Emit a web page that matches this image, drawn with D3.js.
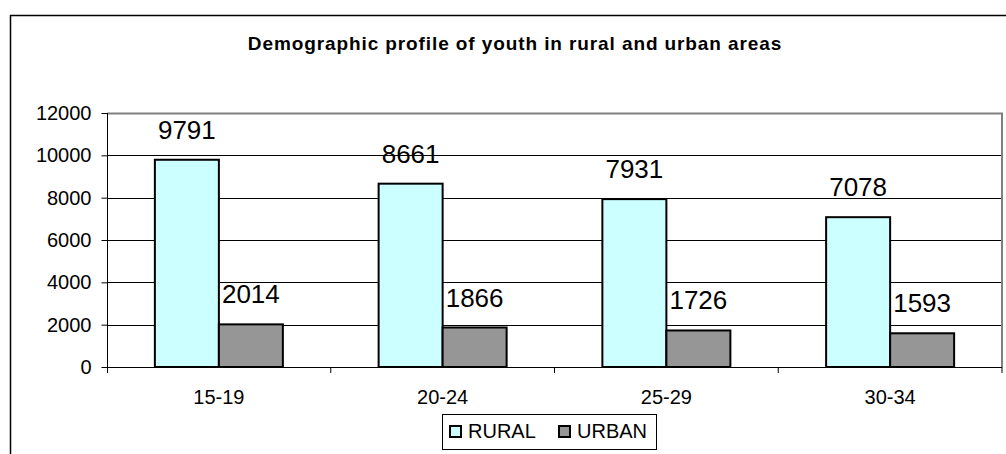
<!DOCTYPE html>
<html>
<head>
<meta charset="utf-8">
<script src="https://cdn.jsdelivr.net/npm/d3@7"></script>
<style>
  html, body { margin: 0; padding: 0; background: #fff; }
  svg { display: block; font-family: "Liberation Sans", Arial, sans-serif; }
</style>
</head>
<body>
<div id="chart"></div>
<script>
const titleText = "Demographic profile of youth in rural and urban areas";
const ageGroups = ["15-19", "20-24", "25-29", "30-34"];
const seriesNames = ["RURAL", "URBAN"];
const ruralValues = [9791, 8661, 7931, 7078];
const urbanValues = [2014, 1866, 1726, 1593];
const yTicks = [0, 2000, 4000, 6000, 8000, 10000, 12000];
const seriesColors = ["#ccffff", "#969696"];

const width = 1006;
const height = 454;
const plot = { left: 107, top: 113, right: 1002, bottom: 367 };

const svg = d3.select("#chart").append("svg")
  .attr("width", width)
  .attr("height", height);

// outer chart frame (cut off on right and bottom)
svg.append("rect")
  .attr("x", 10.5).attr("y", 15.5)
  .attr("width", 1100).attr("height", 600)
  .attr("fill", "#fff")
  .attr("stroke", "#000")
  .attr("stroke-width", 1.5);

svg.append("text")
  .attr("x", 515)
  .attr("y", 50)
  .attr("text-anchor", "middle")
  .attr("font-size", 19)
  .attr("font-weight", "bold")
  .attr("letter-spacing", 0.9)
  .text(titleText);

const x = d3.scaleBand()
  .domain(ageGroups)
  .range([plot.left, plot.right])
  .paddingInner(0)
  .paddingOuter(0);

// two touching bars per group, ~64px each
const inner = d3.scaleBand()
  .domain(seriesNames)
  .range([0, x.bandwidth()])
  .paddingOuter(0.748)
  .paddingInner(0);

const y = d3.scaleLinear()
  .domain([0, 12000])
  .range([plot.bottom, plot.top]);

// gridlines
svg.append("g")
  .selectAll("line")
  .data(yTicks.filter(function (d) { return d > 0 && d < 12000; }))
  .join("line")
  .attr("x1", plot.left).attr("x2", plot.right)
  .attr("y1", function (d) { return Math.round(y(d)) + 0.5; })
  .attr("y2", function (d) { return Math.round(y(d)) + 0.5; })
  .attr("stroke", "#000")
  .attr("stroke-width", 1);

// plot area border (top/right in gray)
svg.append("path")
  .attr("d", `M${plot.left},${plot.top + 0.5}H${plot.right}V${plot.bottom}`)
  .attr("fill", "none")
  .attr("stroke", "#808080")
  .attr("stroke-width", 2);

// y axis
const yAxis = d3.axisLeft(y)
  .tickValues(yTicks)
  .tickSize(6)
  .tickPadding(10)
  .tickFormat(d3.format("d"));

const yG = svg.append("g")
  .attr("transform", `translate(${plot.left + 0.5},0)`)
  .call(yAxis);
yG.select(".domain").remove();
yG.selectAll(".tick line").attr("stroke", "#000");
yG.selectAll(".tick text")
  .attr("font-size", 20)
  .attr("font-family", "Liberation Sans, Arial, sans-serif")
  .attr("fill", "#000");

svg.append("line")
  .attr("x1", plot.left + 0.5).attr("x2", plot.left + 0.5)
  .attr("y1", plot.top).attr("y2", plot.bottom + 6)
  .attr("stroke", "#000");

// x axis
svg.append("line")
  .attr("x1", plot.left).attr("x2", plot.right)
  .attr("y1", plot.bottom + 0.5).attr("y2", plot.bottom + 0.5)
  .attr("stroke", "#000");

svg.append("g")
  .selectAll("line")
  .data(ageGroups.slice(1).concat(["end"]))
  .join("line")
  .attr("x1", function (d) { return d === "end" ? plot.right : x(d); })
  .attr("x2", function (d) { return d === "end" ? plot.right : x(d); })
  .attr("y1", plot.bottom)
  .attr("y2", plot.bottom + 6)
  .attr("stroke", "#000");

svg.append("g")
  .selectAll("text")
  .data(ageGroups)
  .join("text")
  .attr("x", function (d) { return x(d) + x.bandwidth() / 2; })
  .attr("y", 404)
  .attr("text-anchor", "middle")
  .attr("font-size", 20)
  .text(function (d) { return d; });

// bars
const rows = ageGroups.map(function (g, i) {
  return { group: g, values: [ruralValues[i], urbanValues[i]] };
});

const groups = svg.append("g")
  .selectAll("g")
  .data(rows)
  .join("g")
  .attr("transform", function (d) { return `translate(${x(d.group)},0)`; });

groups.selectAll("rect")
  .data(function (d) {
    return d.values.map(function (v, i) { return { name: seriesNames[i], value: v, i: i }; });
  })
  .join("rect")
  .attr("x", function (d) { return inner(d.name); })
  .attr("y", function (d) { return y(d.value); })
  .attr("width", inner.bandwidth())
  .attr("height", function (d) { return plot.bottom - y(d.value); })
  .attr("fill", function (d) { return seriesColors[d.i]; })
  .attr("stroke", "#000")
  .attr("stroke-width", 2);

groups.selectAll("text")
  .data(function (d) {
    return d.values.map(function (v, i) { return { name: seriesNames[i], value: v }; });
  })
  .join("text")
  .attr("x", function (d) { return inner(d.name) + inner.bandwidth() / 2; })
  .attr("y", function (d) { return y(d.value) - 21; })
  .attr("text-anchor", "middle")
  .attr("font-size", 26)
  .text(function (d) { return d.value; });

// legend
const legend = svg.append("g");
legend.append("rect")
  .attr("x", 442.5).attr("y", 414.5)
  .attr("width", 214).attr("height", 35)
  .attr("fill", "#fff")
  .attr("stroke", "#000");

const legendX = [450, 559];
seriesNames.forEach(function (name, i) {
  legend.append("rect")
    .attr("x", legendX[i]).attr("y", 426)
    .attr("width", 11).attr("height", 11)
    .attr("fill", seriesColors[i])
    .attr("stroke", "#000")
    .attr("stroke-width", 2);
  legend.append("text")
    .attr("x", legendX[i] + 18)
    .attr("y", 438)
    .attr("font-size", 20)
    .text(name);
});
</script>
</body>
</html>
